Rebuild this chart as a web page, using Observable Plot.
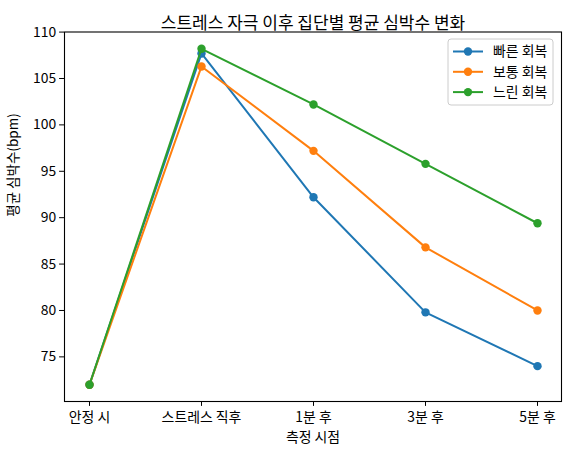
<!DOCTYPE html>
<html>
<head>
<meta charset="utf-8">
<script src="https://cdn.jsdelivr.net/npm/d3@7"></script>
<script src="https://cdn.jsdelivr.net/npm/@observablehq/plot@0.6"></script>
<style>
  html, body { margin: 0; padding: 0; background: #fff; }
  svg { font-family: "Noto Sans CJK KR", "Noto Sans", sans-serif; }
</style>
</head>
<body>
<div id="chart"></div>
<script>
const times = ["안정 시", "스트레스 직후", "1분 후", "3분 후", "5분 후"];
const seriesNames = ["빠른 회복", "보통 회복", "느린 회복"];
const fastValues = [72.0, 107.7, 92.2, 79.8, 74.0];
const normalValues = [72.0, 106.3, 97.2, 86.8, 80.0];
const slowValues = [72.0, 108.2, 102.2, 95.8, 89.4];
const colors = ["#1f77b4", "#ff7f0e", "#2ca02c"];
const yTicks = [75, 80, 85, 90, 95, 100, 105, 110];
const titleText = "스트레스 자극 이후 집단별 평균 심박수 변화";
const xLabel = "측정 시점";
const yLabel = "평균 심박수(bpm)";

const valuesBySeries = [fastValues, normalValues, slowValues];
const rows = [];
seriesNames.forEach((s, i) => {
  times.forEach((t, j) => rows.push({series: s, time: t, value: valuesBySeries[i][j]}));
});

const allVals = valuesBySeries.flat();
const vmin = d3.min(allVals), vmax = d3.max(allVals);
const pad = (vmax - vmin) * 0.05;

const marks = [];
seriesNames.forEach((s) => {
  const d = rows.filter(r => r.series === s);
  marks.push(Plot.line(d, {x: "time", y: "value", stroke: "series", strokeWidth: 2}));
  marks.push(Plot.dot(d, {x: "time", y: "value", fill: "series", r: 4.2}));
});
marks.push(Plot.frame({stroke: "black", strokeWidth: 1.1}));
marks.push(Plot.text([titleText], {frameAnchor: "top", dy: -15.5, fontSize: 17, fill: "black"}));
marks.push(Plot.text([xLabel], {frameAnchor: "bottom", dy: 40, fontSize: 13.9, fill: "black"}));
marks.push(Plot.text([yLabel], {frameAnchor: "left", dx: -51, rotate: -90, fontSize: 13.5, fill: "black"}));

const chart = Plot.plot({
  width: 569,
  height: 454,
  marginLeft: 64,
  marginRight: 8,
  marginTop: 31.5,
  marginBottom: 53,
  style: {fontFamily: '"Noto Sans CJK KR", "Noto Sans", sans-serif', fontSize: "13.9px", background: "white", color: "black"},
  x: {type: "point", domain: times, padding: 0.2, label: null, tickSize: 4.9, tickPadding: 5.5},
  y: {domain: [vmin - pad, vmax + pad], ticks: yTicks, label: null, tickSize: 4.9, tickPadding: 3.5},
  color: {domain: seriesNames, range: colors},
  marks
});

document.getElementById("chart").appendChild(chart);

// Legend
const svg = d3.select(chart);
const lg = svg.append("g").attr("transform", "translate(448,39)").attr("text-anchor", "start");
lg.append("rect").attr("width", 105).attr("height", 66).attr("rx", 3)
  .attr("fill", "white").attr("fill-opacity", 0.8).attr("stroke", "#cccccc").attr("stroke-width", 1);
seriesNames.forEach((s, i) => {
  const y = 12.5 + i * 20.3;
  lg.append("line").attr("x1", 5).attr("x2", 35).attr("y1", y).attr("y2", y)
    .attr("stroke", colors[i]).attr("stroke-width", 2);
  lg.append("circle").attr("cx", 20).attr("cy", y).attr("r", 4.2).attr("fill", colors[i]);
  lg.append("text").attr("x", 45).attr("y", y).attr("dy", "0.35em")
    .attr("text-anchor", "start")
    .attr("font-size", 13.9).attr("fill", "black").text(s);
});
</script>
</body>
</html>
